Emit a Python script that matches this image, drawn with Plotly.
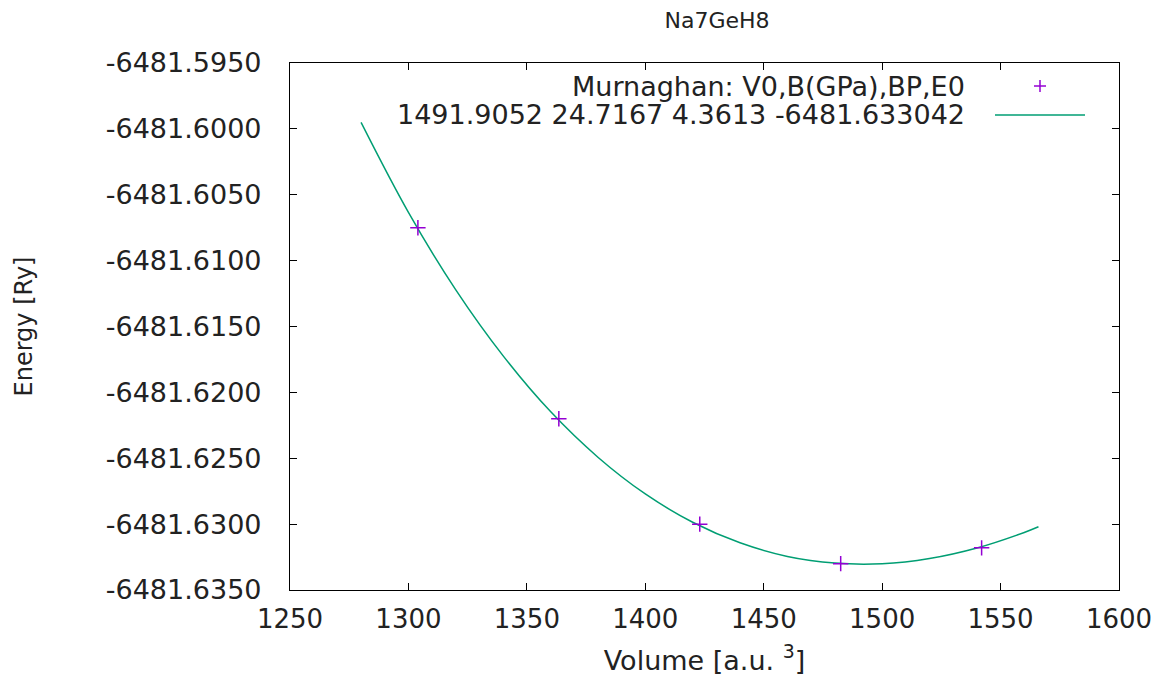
import plotly.graph_objects as go

# Measured data points (volume in a.u.^3, energy in Ry)
volumes = [1304, 1363.5, 1423, 1482.5, 1542]
energies = [-6481.6075, -6481.6220, -6481.6300, -6481.6330, -6481.6318]

# Fitted Murnaghan curve
fit_volumes = [1280, 1300, 1320, 1340, 1360, 1380, 1400, 1420, 1440, 1460,
               1480, 1500, 1520, 1540, 1560, 1566]
fit_energies = [-6481.59951, -6481.60634, -6481.61222, -6481.61723, -6481.62146,
                -6481.62492, -6481.62771, -6481.62986, -6481.63142, -6481.63245,
                -6481.63296, -6481.63301, -6481.63261, -6481.63181, -6481.63063,
                -6481.63020]

x_ticks = [1250, 1300, 1350, 1400, 1450, 1500, 1550, 1600]
y_ticks = [-6481.635, -6481.630, -6481.625, -6481.620, -6481.615,
           -6481.610, -6481.605, -6481.600, -6481.595]
y_tick_labels = ["-6481.6350", "-6481.6300", "-6481.6250", "-6481.6200", "-6481.6150",
                 "-6481.6100", "-6481.6050", "-6481.6000", "-6481.5950"]

title_text = "Na7GeH8"
x_title = "Volume [a.u. <sup>3</sup>]"
y_title = "Energy [Ry]"
legend_line1 = "Murnaghan: V0,B(GPa),BP,E0"
legend_line2 = "1491.9052 24.7167 4.3613 -6481.633042"

FONT = "DejaVu Sans"
TXT = "#222222"
PURPLE = "#9400d3"
GREEN = "#009e73"

# page body has an 8px margin; figure placed so plot area matches reference pixels
OFF = 8
W, H = 1167 - OFF, 679 - OFF
PL, PR, PT, PB = 290, 1119, 63, 590          # plot area in reference pixels
L, R, T, B = PL - OFF, 1167 - PR, PT - OFF, 679 - PB
PW, PH = PR - PL, PB - PT


def px(xp):
    return (xp - PL) / PW


def py(yp):
    return (PB - yp) / PH


fig = go.Figure()
fig.add_trace(go.Scatter(
    x=fit_volumes, y=fit_energies, mode="lines",
    line=dict(color=GREEN, width=1.5, shape="spline", smoothing=1.0),
    showlegend=False, hoverinfo="skip"))
fig.add_trace(go.Scatter(
    x=volumes, y=energies, mode="markers",
    marker=dict(symbol="cross-thin", size=11, line=dict(color=PURPLE, width=1.5), color=PURPLE),
    showlegend=False))

fig.update_layout(
    width=W, height=H,
    margin=dict(l=L, r=R, t=T, b=B, autoexpand=False),
    plot_bgcolor="white", paper_bgcolor="white",
    font=dict(family=FONT, size=27, color=TXT),
    title=dict(text=title_text, xref="paper", x=px(717), xanchor="center",
               yref="container", y=1, yanchor="top", pad=dict(t=5),
               font=dict(family=FONT, size=22, color=TXT)),
    showlegend=False,
)

fig.update_xaxes(
    range=[1250, 1600], tickvals=x_ticks, ticks="inside", ticklen=7,
    tickcolor="black", showline=True, linecolor="black", linewidth=1.2, mirror="ticks",
    showgrid=False, zeroline=False, tickfont=dict(size=26, color=TXT),
    ticklabelstandoff=6,
    title=dict(text=x_title, font=dict(size=27, color=TXT), standoff=17),
)
fig.update_yaxes(
    range=[-6481.635, -6481.595], tickvals=y_ticks, ticktext=y_tick_labels,
    ticks="inside", ticklen=7, tickcolor="black", showline=True, linecolor="black",
    linewidth=1.2, mirror="ticks", showgrid=False, zeroline=False,
    tickfont=dict(size=27, color=TXT), ticklabelstandoff=22,
    title=dict(text=y_title, font=dict(size=24, color=TXT), standoff=66),
)

# Key (gnuplot style: right-aligned text, sample on the right)
fig.add_annotation(text=legend_line1, xref="paper", yref="paper", x=px(967), y=py(86),
                   xanchor="right", yanchor="middle", showarrow=False,
                   font=dict(family=FONT, size=27, color=TXT))
fig.add_annotation(text=legend_line2, xref="paper", yref="paper", x=px(967), y=py(114),
                   xanchor="right", yanchor="middle", showarrow=False,
                   font=dict(family=FONT, size=27, color=TXT))
# sample '+'
fig.add_shape(type="line", xref="paper", yref="paper", x0=px(1034), x1=px(1046), y0=py(86), y1=py(86),
              line=dict(color=PURPLE, width=1.5))
fig.add_shape(type="line", xref="paper", yref="paper", x0=px(1040), x1=px(1040), y0=py(80), y1=py(92),
              line=dict(color=PURPLE, width=1.5))
# sample line
fig.add_shape(type="line", xref="paper", yref="paper", x0=px(995), x1=px(1085), y0=py(115), y1=py(115),
              line=dict(color=GREEN, width=1.5))

fig.write_html("out.html")
